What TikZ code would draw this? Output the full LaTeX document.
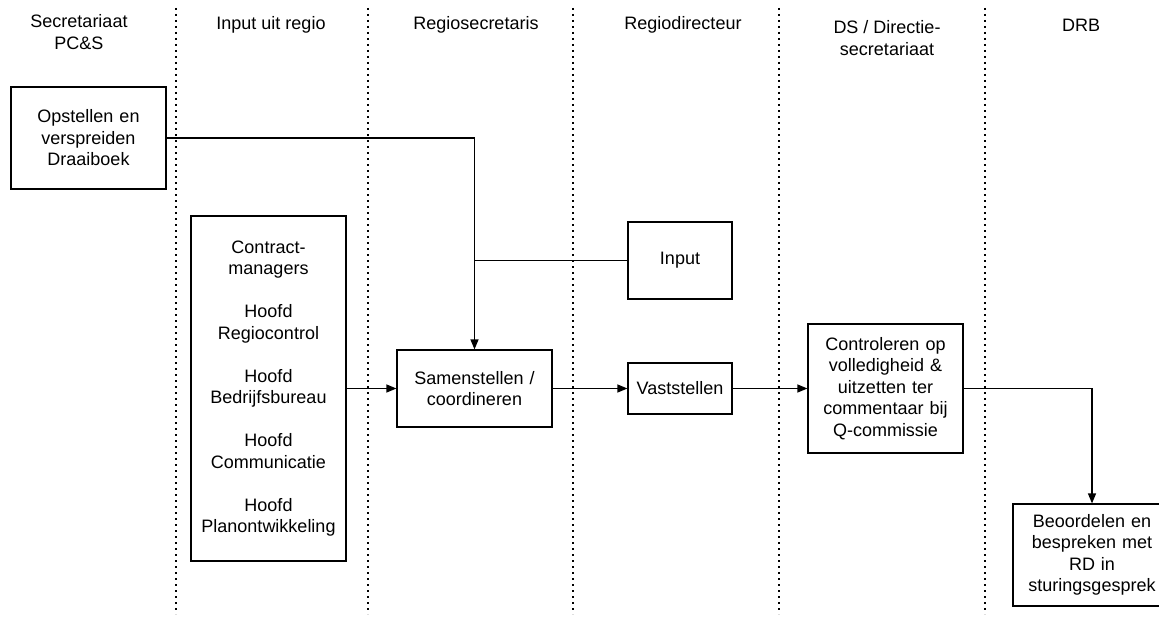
\documentclass[tikz,border=0pt]{standalone}
\usepackage{fontspec}
\setmainfont{Liberation Sans}
\usetikzlibrary{arrows.meta}

\begin{document}
\begin{tikzpicture}[x = 1pt, y = -1pt,
    box/.style = {draw, line width = 1.2pt, inner sep = 0pt, align = center,
      font = \fontsize{18}{21.5}\selectfont},
    head/.style = {align = center, font = \fontsize{18}{21.5}\selectfont},
    flow/.style = {line width = 1.2pt, -{Triangle[length = 10pt, width = 8pt]}},
    lane/.style = {line width = 1.3pt, dash pattern = on 1.6pt off 4.4pt}]
  \clip (0, 0) rectangle (1159, 618);
  \foreach \x in {176, 368, 573, 779, 985}
    \draw[lane] (\x, 8) -- (\x, 614);

  % lane headers
  \node[head] (secr) at (79, 32) {Secretariaat\\PC\&S};
  \node[head] (inuit) at (271, 25) {Input uit regio};
  \node[head] (rsecr) at (476, 25) {Regiosecretaris};
  \node[head] (rdir) at (683, 25) {Regiodirecteur};
  \node[head] (dsds) at (887, 38) {DS / Directie-\\secretariaat};
  \node[head] (drb) at (1081, 25) {DRB};

  % boxes
  \node[box, text width = 155pt, minimum height = 102pt] (opstellen) at (88.5, 138)
    {Opstellen en\\verspreiden\\Draaiboek};
  \node[box, text width = 155pt, minimum height = 345pt] (regio) at (268.5, 388.5)
    {Contract-\\managers\\[21.5pt]Hoofd\\Regiocontrol\\[21.5pt]Hoofd\\Bedrijfsbureau\\[21.5pt]Hoofd\\Communicatie\\[21.5pt]Hoofd\\Planontwikkeling};
  \node[box, text width = 155pt, minimum height = 77pt] (samen) at (474.5, 388.5)
    {Samenstellen /\\coordineren};
  \node[box, text width = 104pt, minimum height = 77pt] (input) at (680, 260.5) {Input};
  \node[box, text width = 104pt, minimum height = 51pt] (vast) at (680, 388.5) {Vaststellen};
  \node[box, text width = 155pt, minimum height = 129pt] (contr) at (885.5, 388.5)
    {Controleren op\\volledigheid \&\\uitzetten ter\\commentaar bij\\Q-commissie};
  \node[box, text width = 158pt, minimum height = 102pt] (beoor) at (1092, 555)
    {Beoordelen en\\bespreken met\\RD in\\sturingsgesprek};

  % connectors
  \coordinate (join) at (input.west -| samen.north);
  \draw[flow] (opstellen.east) -| (samen.north);
  \draw[line width = 1.2pt] (input.west) -- (join);
  \draw[flow] (regio.east) -- (samen.west);
  \draw[flow] (samen.east) -- (vast.west);
  \draw[flow] (vast.east) -- (contr.west);
  \draw[flow] (contr.east) -| (beoor.north);
\end{tikzpicture}
\end{document}
